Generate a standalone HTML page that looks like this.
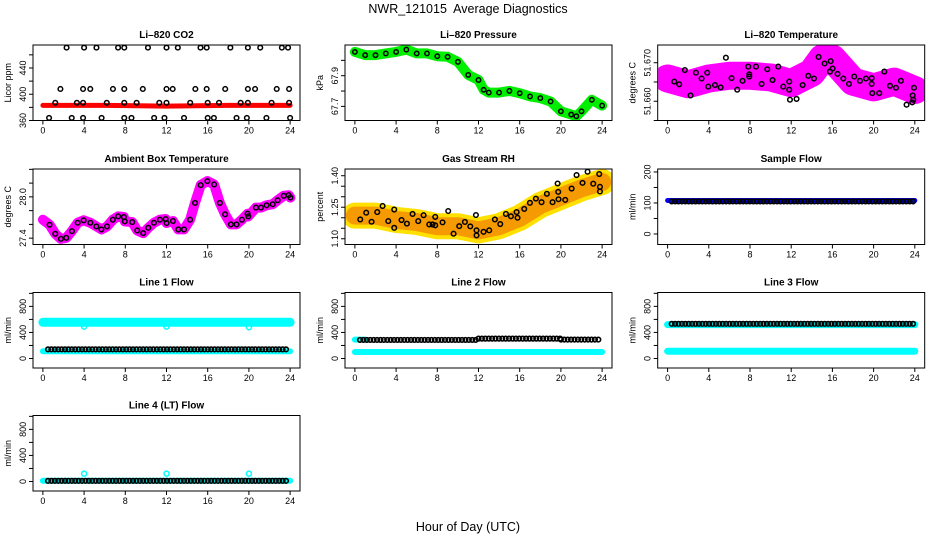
<!DOCTYPE html>
<html><head><meta charset="utf-8">
<style>
html,body{margin:0;padding:0;background:#fff;}
svg{display:block;font-family:"Liberation Sans",sans-serif;}
</style></head>
<body>
<svg id="chart" width="936" height="540" viewBox="0 0 936 540" xmlns="http://www.w3.org/2000/svg">
<defs id="defs"></defs>
<text x="468" y="13" text-anchor="middle" font-size="12.5" style="white-space:pre" xml:space="preserve">NWR_121015  Average Diagnostics</text>
<text x="468" y="531" text-anchor="middle" font-size="12.5">Hour of Day (UTC)</text>
</svg>
<script>
// ---- data ----
const co2TopHours=[2.3,4.0,5.2,7.3,7.9,10.2,12.0,13.1,15.3,15.9,18.2,19.9,21.1,23.2,23.8];
const co2TopVals=[471,471,471,471,471,471,471,471,471,471,471,471,471,471,471];
const co2MidHours=[1.7,3.9,4.6,6.8,7.9,9.7,12.0,12.6,14.8,15.9,17.7,19.9,20.6,22.7,23.9];
const co2MidVals=[408,408,408,408,408,408,408,408,408,408,408,408,408,408,408];
const co2LowHours=[1.2,3.3,3.9,6.2,7.9,9.1,11.3,12.0,14.3,16.0,17.1,19.2,19.9,22.2,23.9];
const co2LowVals=[387,387,387,387,387,387,387,387,387,387,387,387,387,387,387];
const co2BotHours=[0.6,2.8,3.9,5.7,7.9,8.6,10.8,11.8,13.7,16.0,16.6,18.8,19.8,21.7,24.0];
const co2BotVals=[364,364,364,364,364,364,364,364,364,364,364,364,364,364,364];
const co2BandHours=[0,6,12,18,24];
const co2BandVals=[383,383,382,383,383];

const presHours=[0,1,2,3,4,5,6,7,8,9,10,11,12,12.5,13,14,15,16,17,18,19,20,21,21.5,22,23,24];
const presVals=[68.055,68.034,68.034,68.045,68.055,68.070,68.045,68.045,68.027,68.023,67.990,67.905,67.872,67.808,67.790,67.790,67.801,67.786,67.765,67.754,67.732,67.668,67.647,67.636,67.668,67.743,67.705];

const ltBandHours=[0,2,4,6,8,10,12,14,15,16,17,18,20,22,24];
const ltBandVals=[51.6659,51.6644,51.6659,51.6666,51.6666,51.6662,51.6647,51.6674,51.6711,51.6711,51.6681,51.6651,51.6636,51.6651,51.6629];
const ltHours=[0.65,1.13,1.68,2.23,2.75,3.30,3.85,3.95,4.6,5.15,5.66,6.21,6.76,7.28,7.83,7.93,7.93,8.58,9.13,9.68,10.19,10.74,11.23,11.81,11.81,11.88,12.52,13.11,13.66,14.21,14.66,15.24,15.83,15.76,16.02,16.50,17.06,17.61,18.12,18.67,19.26,19.81,19.81,19.87,20.55,21.04,21.59,22.17,22.65,23.2,23.75,23.79,23.85,23.92];
const ltVals=[51.6651,51.6644,51.6681,51.6615,51.6674,51.6659,51.6674,51.6638,51.6642,51.6636,51.6713,51.6660,51.6630,51.6653,51.6690,51.6670,51.6664,51.6690,51.6645,51.6683,51.6655,51.6690,51.6638,51.6651,51.6630,51.6604,51.6606,51.6642,51.6666,51.6659,51.6715,51.6698,51.6704,51.6677,51.6685,51.6671,51.6659,51.6645,51.6664,51.6653,51.6659,51.6660,51.6645,51.6621,51.6621,51.6677,51.6640,51.6635,51.6653,51.6591,51.6597,51.6615,51.6604,51.6635];

const abHours=[0,0.65,1.2,1.75,2.27,2.82,3.38,3.96,4.61,5.19,5.68,6.23,6.79,7.31,7.86,7.95,8.67,9.16,9.74,10.23,10.78,11.36,11.92,12.01,12.63,13.15,13.7,14.29,14.77,15.32,15.97,16.62,17.18,17.69,18.25,18.8,19.32,19.87,19.94,20.68,21.17,21.72,22.31,22.79,23.38,23.86,24.03];
const abVals=[27.668,27.595,27.463,27.390,27.405,27.502,27.624,27.659,27.624,27.571,27.527,27.571,27.668,27.717,27.707,27.644,27.634,27.512,27.473,27.551,27.624,27.668,27.678,27.620,27.649,27.527,27.527,27.668,27.912,28.171,28.229,28.180,27.912,27.746,27.600,27.600,27.668,27.756,27.717,27.844,27.844,27.878,27.893,27.951,28.015,28.024,27.990];

const rhBandHours=[0,2,4,6,8,10,12,14,16,18,20,22,24];
const rhBandVals=[1.21,1.21,1.19,1.18,1.16,1.16,1.14,1.16,1.20,1.26,1.30,1.34,1.37];
const rhHours=[0.52,1.1,1.62,2.17,2.69,3.24,3.82,3.82,4.53,5.05,5.6,6.15,6.67,7.22,7.54,7.8,7.8,8.51,9.06,9.58,10.13,10.68,11.2,11.75,11.81,11.81,12.49,13.04,13.59,14.11,14.66,15.15,15.7,15.79,16.44,16.99,17.57,18.12,18.64,19.19,19.68,19.74,19.77,20.42,21.04,21.52,22.1,22.59,23.14,23.72,23.79,23.79];
const rhVals=[1.192,1.224,1.181,1.227,1.256,1.184,1.239,1.152,1.189,1.172,1.218,1.184,1.212,1.168,1.168,1.204,1.164,1.178,1.232,1.124,1.160,1.180,1.159,1.213,1.140,1.116,1.133,1.140,1.192,1.170,1.218,1.207,1.227,1.200,1.242,1.271,1.291,1.274,1.314,1.274,1.363,1.323,1.288,1.285,1.339,1.403,1.366,1.419,1.362,1.408,1.347,1.325];

// flow panels: [startHour, endHour, value]
const sampleBlue=[[0,24,108]];
const sampleBlack=[[0.4,23.9,105]];
const l1Cyan=[[0,24,555],[0,24,110]];
const l1Black=[[0.5,23.9,140]];
const l1OutHours=[4,12,20];
const l1OutVals=[490,490,480];
const l2Cyan=[[0,24,100],[0,1,290]];
const l2Black=[[0.5,12,285],[12,20,305],[20,23.9,290]];
const l3Cyan=[[0,24,520],[0,24,112]];
const l3Black=[[0.4,23.9,532]];
const l4Cyan=[[0,24,10]];
const l4Black=[[0.5,23.9,10]];
const l4OutHours=[4,12,20];
const l4OutVals=[120,120,120];

// ---- drawing ----
const svg=document.getElementById('chart');
const defs=document.getElementById('defs');
const NS='http://www.w3.org/2000/svg';
const colL=[33,345,657.7], rowT=[45,169,292.5,415.5], W=267, H=75.5;
const xTicks=[0,4,8,12,16,20,24];
function mk(tag,attrs,parent){const e=document.createElementNS(NS,tag);for(const k in attrs)e.setAttribute(k,attrs[k]);(parent||svg).appendChild(e);return e;}

function panel(col,row,name,title,ytitle,ymin,ymax,yticks,ylabels){
  const g=mk('g',{});
  
  
  const L=colL[col],T=rowT[row];
  const x0=L+(W*0.04/1.08), pxh=(W/1.08)/24;
  const sx=h=>x0+h*pxh;
  const sy=v=>T+H-(v-ymin)/(ymax-ymin)*H;
  const cp=mk('clipPath',{id:'clip-'+name},defs);
  mk('rect',{x:L+0.5,y:T+0.5,width:W-1,height:H-1},cp);
  const plot=mk('g',{'clip-path':'url(#clip-'+name+')'},g);
  
  
  const box=mk('rect',{x:L,y:T,width:W,height:H,fill:'none',stroke:'#000','stroke-width':1},g);
  
  
  const t=mk('text',{x:L+W/2,y:T-7,'text-anchor':'middle','font-size':10,'font-weight':'bold'},g);
  t.textContent=title;
  
  
  const xa=mk('g',{},g);
  
  
  mk('line',{x1:sx(0),x2:sx(24),y1:T+H,y2:T+H,stroke:'#000'},xa);
  xTicks.forEach(v=>{
    mk('line',{x1:sx(v),x2:sx(v),y1:T+H,y2:T+H+4,stroke:'#000'},xa);
    const tl=mk('text',{x:sx(v),y:T+H+13,'text-anchor':'middle','font-size':9},xa);
    tl.textContent=v;
    
    
  });
  const ya=mk('g',{},g);
  
  
  yticks.forEach(v=>{mk('line',{x1:L-4,x2:L,y1:sy(v),y2:sy(v),stroke:'#000'},ya);});
  ylabels.forEach(v=>{
    const y=sy(v);
    const tl=mk('text',{x:L-7,y:y,'text-anchor':'middle','font-size':9,transform:`rotate(-90 ${L-7} ${y})`},ya);
    tl.textContent=v;
    
    
  });
  const yt=mk('text',{x:L-22,y:T+H/2,'text-anchor':'middle','font-size':9,transform:`rotate(-90 ${L-22} ${T+H/2})`},ya);
  yt.textContent=ytitle;
  
  
  return {g:plot,sx,sy};
}
function band(p,hs,vs,color,w,nm){
  const pts=hs.map((h,i)=>p.sx(h).toFixed(1)+','+p.sy(vs[i]).toFixed(1)).join(' ');
  const e=mk('polyline',{points:pts,fill:'none',stroke:color,'stroke-width':w,'stroke-linejoin':'round','stroke-linecap':'round'},p.g);
  
  
}
function pts(p,hs,vs,color,r,nm,sw){
  hs.forEach((h,i)=>{
    const c=mk('circle',{cx:p.sx(h),cy:p.sy(vs[i]),r:r,fill:'none',stroke:color,'stroke-width':sw||1.5},p.g);
    
    
  });
}
function segs(p,list,color,w,nm){
  list.forEach(s=>band(p,[s[0],s[1]],[s[2],s[2]],color,w,nm));
}
function dotted(p,list,color,nm){
  list.forEach(s=>{
    for(let h=s[0];h<=s[1]+0.001;h+=0.33){
      const c=mk('circle',{cx:p.sx(h),cy:p.sy(s[2]),r:2.3,fill:'none',stroke:color,'stroke-width':1.6},p.g);
      
      
    }
  });
}

let p=panel(0,0,'co2','Li\u2013820 CO2','Licor ppm',360,475,[360,380,400,420,440,460],[360,400,440]);
band(p,co2BandHours,co2BandVals,'#ff0000',5,'co2-red-band');
pts(p,co2TopHours,co2TopVals,'#000',2.3,'co2-point');
pts(p,co2MidHours,co2MidVals,'#000',2.3,'co2-point');
pts(p,co2LowHours,co2LowVals,'#000',2.3,'co2-point');
pts(p,co2BotHours,co2BotVals,'#000',2.3,'co2-point');

p=panel(1,0,'pressure','Li\u2013820 Pressure','kPa',67.608,68.1,[67.7,67.8,67.9,68.0],['67.7','67.9']);
band(p,presHours,presVals,'#00ee00',10,'pressure-green-band');
pts(p,presHours,presVals,'#000',2.2,'pressure-point');

p=panel(2,0,'li820-temp','Li\u2013820 Temperature','degrees C',51.655,51.6746,[51.655,51.660,51.665,51.670],['51.660','51.670']);
band(p,ltBandHours,ltBandVals,'#ff00ff',28,'temp-magenta-cloud');
pts(p,ltHours,ltVals,'#000',2.3,'temp-point');

p=panel(0,1,'ambient-temp','Ambient Box Temperature','degrees C',27.308,28.405,[27.4,27.6,27.8,28.0,28.2,28.4],['27.4','28.0']);
band(p,abHours,abVals,'#ff00ff',10,'ambient-magenta-band');
pts(p,abHours.slice(1),abVals.slice(1),'#000',2.3,'ambient-point');

p=panel(1,1,'gas-rh','Gas Stream RH','percent',1.0727,1.432,[1.10,1.15,1.20,1.25,1.30,1.35,1.40],['1.10','1.25','1.40']);
band(p,rhBandHours,rhBandVals,'#ffe000',26,'rh-yellow-cloud');
band(p,rhBandHours,rhBandVals,'#f59a00',18,'rh-orange-cloud');
pts(p,rhHours,rhVals,'#000',2.3,'rh-point');

p=panel(2,1,'sample-flow','Sample Flow','ml/min',-34,209.6,[0,50,100,150,200],[0,100,200]);
segs(p,sampleBlue,'#0000ff',5,'sample-blue-series');
dotted(p,sampleBlack,'#000','sample-point');

const flowTicks=[0,200,400,600,800,1000], flowLabels=[0,400,800];
p=panel(0,2,'line1-flow','Line 1 Flow','ml/min',-146,1013,flowTicks,flowLabels);
segs(p,l1Cyan.slice(0,1),'#00ffff',9,'line1-cyan-series');
segs(p,l1Cyan.slice(1),'#00ffff',6,'line1-cyan-series');
pts(p,l1OutHours,l1OutVals,'#00ffff',2.5,'line1-cyan-outlier');
dotted(p,l1Black,'#000','line1-point');
p=panel(1,2,'line2-flow','Line 2 Flow','ml/min',-146,1013,flowTicks,flowLabels);
segs(p,l2Cyan,'#00ffff',6,'line2-cyan-series');
dotted(p,l2Black,'#000','line2-point');
p=panel(2,2,'line3-flow','Line 3 Flow','ml/min',-146,1013,flowTicks,flowLabels);
segs(p,l3Cyan,'#00ffff',7,'line3-cyan-series');
dotted(p,l3Black,'#000','line3-point');
p=panel(0,3,'line4-flow','Line 4 (LT) Flow','ml/min',-146,1013,flowTicks,flowLabels);
segs(p,l4Cyan,'#00ffff',6,'line4-cyan-series');
pts(p,l4OutHours,l4OutVals,'#00ffff',2.5,'line4-cyan-outlier');
dotted(p,l4Black,'#000','line4-point');
</script>
</body></html>
